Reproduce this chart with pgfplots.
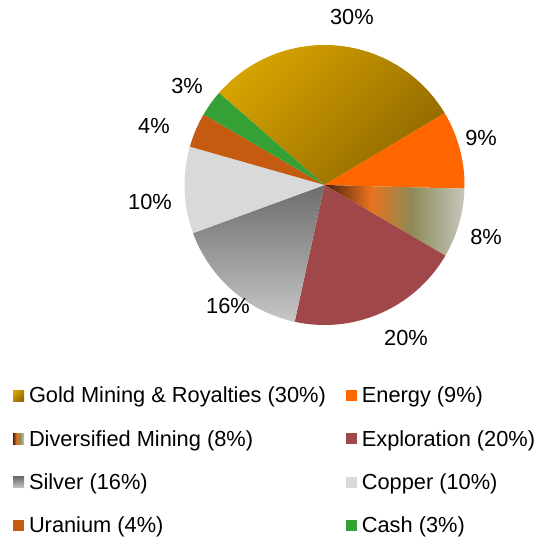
\documentclass[border=0pt]{standalone}
\usepackage{pgfplots}
\pgfplotsset{compat=1.18}
\usepackage{fontspec}
\setmainfont{Liberation Sans}
\definecolor{goldL}{HTML}{D6A200}
\definecolor{goldD}{HTML}{906800}
\definecolor{energy}{HTML}{FF6600}
\definecolor{divA}{HTML}{4A1E0E}
\definecolor{divB}{HTML}{E8731E}
\definecolor{divC}{HTML}{8E8A55}
\definecolor{divD}{HTML}{C6C6BE}
\definecolor{explo}{HTML}{A0474A}
\definecolor{silvD}{HTML}{6C6C6C}
\definecolor{silvL}{HTML}{C6C6C6}
\definecolor{copper}{HTML}{D9D9D9}
\definecolor{uran}{HTML}{C55A11}
\definecolor{cash}{HTML}{35A035}
\pgfdeclarehorizontalshading{divshade}{100bp}{color(0bp)=(divA); color(25bp)=(divA); color(41.5bp)=(divB); color(56bp)=(divC); color(75bp)=(divD); color(100bp)=(divD)}
% shares in percent
\def\pA{30}\def\pB{9}\def\pC{8}\def\pD{20}\def\pE{16}\def\pF{10}\def\pG{4}\def\pH{3}
\pgfmathsetmacro\aA{138.9}
\pgfmathsetmacro\aB{\aA-3.6*\pA}
\pgfmathsetmacro\aC{\aB-3.6*\pB}
\pgfmathsetmacro\aD{\aC-3.6*\pC}
\pgfmathsetmacro\aE{\aD-3.6*\pD}
\pgfmathsetmacro\aF{\aE-3.6*\pE}
\pgfmathsetmacro\aG{\aF-3.6*\pF}
\pgfmathsetmacro\aH{\aG-3.6*\pG}
\pgfmathsetmacro\aI{\aH-3.6*\pH}
\newcommand{\lbl}{\fontsize{21.8}{24}\selectfont}
\begin{document}
\begin{tikzpicture}
\begin{axis}[
  x=140pt, y=140pt,
  xmin=-2.317857, xmax=1.560714,
  ymin=-2.528571, ymax=1.321429,
  hide axis, clip=false,
  at={(0,0)}, anchor=south west,
  legend columns=2,
  legend cell align=left,
  legend image code/.code={\path[#1,draw=none] (0pt,-5.5pt) rectangle (11pt,5.5pt);},
  legend style={at={(axis cs:-2.225,-1.443)}, anchor=north west, draw=none, fill=none,
    inner sep=0pt, outer sep=0pt, font=\lbl, row sep=26pt,
    nodes={inner sep=0pt},
    /tikz/every odd column/.append style={column sep=5pt},
    /tikz/every even column/.append style={column sep=20pt}},
]
\addplot[draw=none, top color=goldL, bottom color=goldD, shading angle=45, domain=\aB:\aA, samples=100, variable=\t] ({cos(\t)},{sin(\t)}) -- (axis cs:0,0) -- cycle;
\addlegendentry{Gold Mining \& Royalties (30\%)}
\addplot[draw=none, fill=energy, domain=\aC:\aB, samples=40, variable=\t] ({cos(\t)},{sin(\t)}) -- (axis cs:0,0) -- cycle;
\addlegendentry{Energy (9\%)}
\addplot[draw=none, shading=divshade, domain=\aD:\aC, samples=40, variable=\t] ({cos(\t)},{sin(\t)}) -- (axis cs:0,0) -- cycle;
\addlegendentry{Diversified Mining (8\%)}
\addplot[draw=none, fill=explo, domain=\aE:\aD, samples=80, variable=\t] ({cos(\t)},{sin(\t)}) -- (axis cs:0,0) -- cycle;
\addlegendentry{Exploration (20\%)}
\addplot[draw=none, top color=silvD, bottom color=silvL, domain=\aF:\aE, samples=70, variable=\t] ({cos(\t)},{sin(\t)}) -- (axis cs:0,0) -- cycle;
\addlegendentry{Silver (16\%)}
\addplot[draw=none, fill=copper, domain=\aG:\aF, samples=40, variable=\t] ({cos(\t)},{sin(\t)}) -- (axis cs:0,0) -- cycle;
\addlegendentry{Copper (10\%)}
\addplot[draw=none, fill=uran, domain=\aH:\aG, samples=20, variable=\t] ({cos(\t)},{sin(\t)}) -- (axis cs:0,0) -- cycle;
\addlegendentry{Uranium (4\%)}
\addplot[draw=none, fill=cash, domain=\aI:\aH, samples=20, variable=\t] ({cos(\t)},{sin(\t)}) -- (axis cs:0,0) -- cycle;
\addlegendentry{Cash (3\%)}
\node[font=\lbl] at (axis cs:0.196,1.2) {30\%};
\node[font=\lbl] at (axis cs:1.118,0.336) {9\%};
\node[font=\lbl] at (axis cs:1.154,-0.371) {8\%};
\node[font=\lbl] at (axis cs:0.582,-1.093) {20\%};
\node[font=\lbl] at (axis cs:-0.689,-0.864) {16\%};
\node[font=\lbl] at (axis cs:-1.246,-0.121) {10\%};
\node[font=\lbl] at (axis cs:-1.218,0.421) {4\%};
\node[font=\lbl] at (axis cs:-0.982,0.707) {3\%};
\coordinate (BL) at (axis cs:-2.317857,-2.528571);
\coordinate (TR) at (axis cs:1.560714,1.321429);
\end{axis}
\pgfresetboundingbox
\useasboundingbox (BL) rectangle (TR);
\end{tikzpicture}
\end{document}
